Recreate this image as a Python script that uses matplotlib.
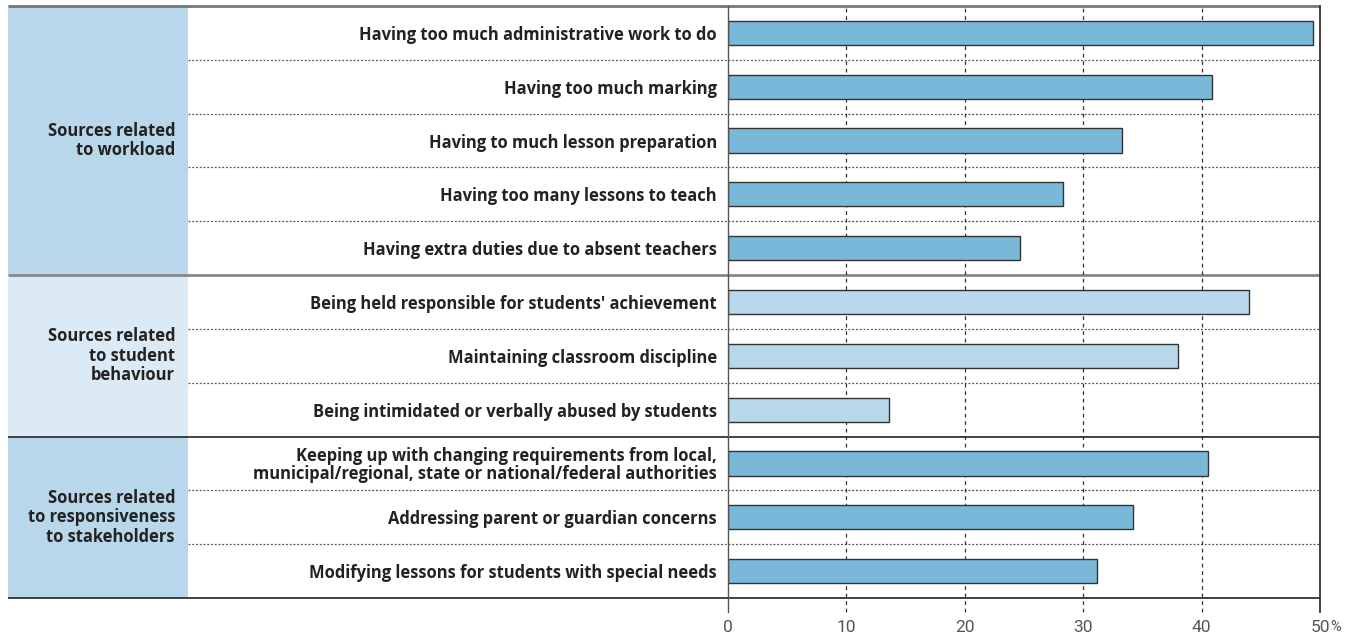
import matplotlib
matplotlib.use("Agg")
import matplotlib.pyplot as plt
from matplotlib.patches import Rectangle

plt.rcParams['font.family'] = ['Open Sans', 'DejaVu Sans']

# ---- data ----
groups = ["Sources related\nto workload",
          "Sources related\nto student\nbehaviour",
          "Sources related\nto responsiveness\nto stakeholders"]
group_sizes = [5, 3, 3]
items = [
    "Having too much administrative work to do",
    "Having too much marking",
    "Having to much lesson preparation",
    "Having too many lessons to teach",
    "Having extra duties due to absent teachers",
    "Being held responsible for students' achievement",
    "Maintaining classroom discipline",
    "Being intimidated or verbally abused by students",
    "Keeping up with changing requirements from local,\nmunicipal/regional, state or national/federal authorities",
    "Addressing parent or guardian concerns",
    "Modifying lessons for students with special needs",
]
values = [49.4, 40.9, 33.3, 28.3, 24.7, 44.0, 38.0, 13.6, 40.5, 34.2, 31.2]
xticks = [0, 10, 20, 30, 40, 50]

# ---- styles ----
dark_bar = "#7ab8da"
light_bar = "#b8d7ea"
panel_colors = ["#b8d7ea", "#dceaf5", "#b8d7ea"]
bar_colors = [dark_bar] * 5 + [light_bar] * 3 + [dark_bar] * 3

W, H = 1360, 637
fig = plt.figure(figsize=(W / 100, H / 100), dpi=100)

top_px, bot_px = 6, 598
left_px, panel_right_px, zero_px, right_px = 8, 188, 728, 1320
n = len(items)
FS = 11.9
TICKFONT = ["Roboto", "DejaVu Sans"]

# background axes (panels, separators)
bg = fig.add_axes([left_px / W, (H - bot_px) / H, (right_px - left_px) / W, (bot_px - top_px) / H])
bg.set_xlim(left_px, right_px)
bg.set_ylim(n, 0)
bg.axis("off")

start = 0
for g, size, col in zip(groups, group_sizes, panel_colors):
    bg.add_patch(Rectangle((left_px, start), panel_right_px - left_px, size, facecolor=col, edgecolor="none", zorder=0))
    bg.text(175, start + size / 2, g, ha="right", va="center", multialignment="right",
            fontsize=FS, fontweight="bold", color="#222222", linespacing=1.1)
    for k in range(1, size):
        bg.plot([panel_right_px, right_px], [start + k, start + k], color="#555555", lw=0.9,
                ls=(0, (1.5, 1.5)), zorder=1)
    start += size

# group lines
bg.plot([left_px, right_px], [0, 0], color="#777777", lw=2, zorder=3, clip_on=False, solid_capstyle="butt")
bg.plot([left_px, right_px], [5, 5], color="#888888", lw=2, zorder=3, clip_on=False, solid_capstyle="butt")
bg.plot([left_px, right_px], [8, 8], color="#333333", lw=1.3, zorder=3, clip_on=False, solid_capstyle="butt")
bg.plot([left_px, right_px], [11, 11], color="#333333", lw=1.3, zorder=3, clip_on=False, solid_capstyle="butt")

# bar axes
ax = fig.add_axes([zero_px / W, (H - bot_px) / H, (right_px - zero_px) / W, (bot_px - top_px) / H])
ax.patch.set_alpha(0)
ax.set_xlim(0, 50)
ax.set_ylim(n, 0)
ypos = [i + 0.5 for i in range(n)]
ax.barh(ypos, values, height=0.45, color=bar_colors, edgecolor="#333333", linewidth=1, zorder=3)

for x in xticks[1:-1]:
    ax.axvline(x, ymin=-0.024, ymax=1, color="#333333", lw=0.9, ls=(0, (3, 3)), zorder=1, clip_on=False)
ax.axvline(0, ymin=-0.024, ymax=1, color="#555555", lw=1, zorder=4, clip_on=False)
ax.axvline(50, ymin=-0.024, ymax=1, color="#333333", lw=1.3, zorder=4, clip_on=False)

for s in ax.spines.values():
    s.set_visible(False)

ax.set_yticks(ypos)
ax.set_yticklabels(items, fontsize=FS, fontweight="bold", color="#222222", linespacing=0.95)
ax.tick_params(axis="y", length=0, pad=8)
ax.set_xticks(xticks)
ax.set_xticklabels([str(v) for v in xticks], fontsize=12.5, color="#555555",
                   fontfamily=TICKFONT, fontweight="normal")
ax.tick_params(axis="x", length=0, pad=16)
ax.annotate("%", xy=(50, -0.0565), xycoords=ax.get_xaxis_transform(),
            xytext=(7.5, 0), textcoords="offset points", ha="left", va="baseline",
            fontsize=10.5, color="#555555", fontfamily=TICKFONT)

fig.savefig("out.png", dpi=100)
